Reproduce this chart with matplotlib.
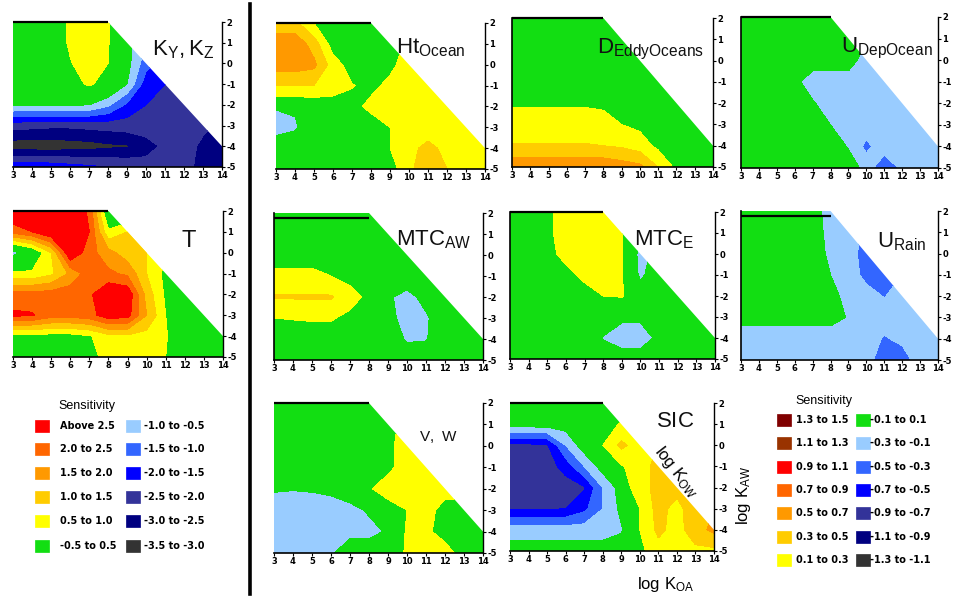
import numpy as np
import matplotlib
matplotlib.use("Agg")
import matplotlib.pyplot as plt
from matplotlib.patches import Polygon, Rectangle

W, H = 954, 598

# ---------------- data ----------------
log_koa = [3, 4, 5, 6, 7, 8, 9, 10, 11, 12, 13, 14]
log_kaw = [2, 1, 0, -1, -2, -3, -4, -5]
kow_limit = 10  # log Kow boundary: log Koa + log Kaw <= 10

# colours
c_green = '#12DE12'
c_yellow, c_gold, c_orange, c_dorange, c_red, c_brown, c_maroon = \
    '#FFFF00', '#FFCC00', '#FF9900', '#FF6600', '#FF0000', '#993300', '#800000'
c_lblue, c_mblue, c_blue, c_slate, c_navy, c_grey = \
    '#99CCFF', '#3366FF', '#0000FF', '#333399', '#000080', '#333333'

# left legend (K_Y,K_Z and T)
levels_left = [-3.5, -3.0, -2.5, -2.0, -1.5, -1.0, -0.5, 0.5, 1.0, 1.5, 2.0, 2.5, 99]
colors_left = [c_grey, c_navy, c_slate, c_blue, c_mblue, c_lblue, c_green,
               c_yellow, c_gold, c_orange, c_dorange, c_red]
legend_left_col1 = ['Above 2.5', '2.0 to 2.5', '1.5 to 2.0', '1.0 to 1.5', '0.5 to 1.0', '-0.5 to 0.5']
legend_left_col1_colors = [c_red, c_dorange, c_orange, c_gold, c_yellow, c_green]
legend_left_col2 = ['-1.0 to -0.5', '-1.5 to -1.0', '-2.0 to -1.5', '-2.5 to -2.0', '-3.0 to -2.5', '-3.5 to -3.0']
legend_left_col2_colors = [c_lblue, c_mblue, c_blue, c_slate, c_navy, c_grey]

# right legend (all other panels)
levels_right = [-1.3, -1.1, -0.9, -0.7, -0.5, -0.3, -0.1, 0.1, 0.3, 0.5, 0.7, 0.9, 1.1, 1.3, 1.5]
colors_right = [c_grey, c_navy, c_slate, c_blue, c_mblue, c_lblue, c_green,
                c_yellow, c_gold, c_orange, c_dorange, c_red, c_brown, c_maroon]
legend_right_col1 = ['1.3 to 1.5', '1.1 to 1.3', '0.9 to 1.1', '0.7 to 0.9', '0.5 to 0.7', '0.3 to 0.5', '0.1 to 0.3']
legend_right_col1_colors = [c_maroon, c_brown, c_red, c_dorange, c_orange, c_gold, c_yellow]
legend_right_col2 = ['-0.1 to 0.1', '-0.3 to -0.1', '-0.5 to -0.3', '-0.7 to -0.5', '-0.9 to -0.7', '-1.1 to -0.9', '-1.3 to -1.1']
legend_right_col2_colors = [c_green, c_lblue, c_mblue, c_blue, c_slate, c_navy, c_grey]

# sensitivity grids: rows = log_kaw (2 .. -5), columns = log_koa (3 .. 14)
sens_kykz = [
    [0, 0, 0, 0.6, 0.9, 0.55, -0.3, -0.75, -1.25, -1.75, -2.25, -2.25],
    [0, 0, 0, 0.6, 0.9, 0.55, -0.3, -1.0, -1.5, -2.0, -2.25, -2.25],
    [0, 0, 0, 0.45, 0.85, 0.5, -0.3, -1.3, -1.8, -2.25, -2.25, -2.25],
    [0, 0, 0, 0.2, 0.6, 0.2, -0.5, -1.8, -2.0, -2.3, -2.3, -2.3],
    [-0.45, -0.45, -0.45, -0.45, -0.5, -0.9, -1.6, -2.0, -2.25, -2.3, -2.3, -2.3],
    [-2.3, -2.35, -2.4, -2.4, -2.35, -2.3, -2.25, -2.25, -2.25, -2.25, -2.4, -2.6],
    [-3.3, -3.3, -3.3, -3.25, -3.2, -3.1, -3.05, -2.7, -2.4, -2.3, -2.6, -2.8],
    [-1.6, -1.6, -1.7, -1.8, -1.9, -2.0, -2.1, -2.3, -2.3, -2.3, -2.7, -2.8],
]
sens_t = [
    [3.0, 3.0, 3.0, 3.0, 2.4, -0.2, -0.2, -0.2, -0.2, -0.2, -0.2, -0.2],
    [2.2, 2.5, 3.0, 3.0, 2.5, 0.6, 1.0, 0.8, 0.5, 0.2, 0, 0],
    [-0.7, -0.1, 1.0, 3.0, 2.2, 1.7, 1.2, 1.0, 0.5, 0.5, 0.5, 0.5],
    [0.6, 0.6, 0.9, 1.6, 2.3, 2.1, 1.9, 1.0, 0.35, 0, 0, 0],
    [2.2, 2.2, 2.25, 2.3, 2.4, 3.0, 2.9, 1.3, 0.4, 0, 0, 0],
    [2.6, 2.55, 2.2, 2.2, 2.3, 2.8, 2.7, 1.5, 0.5, 0, 0, 0],
    [0.3, 0.3, 0.3, 0.3, 0.45, 0.85, 0.9, 0.8, 0.55, 0, 0, 0],
    [0, 0, 0, 0, 0.3, 0.7, 0.7, 0.7, 0.5, 0, 0, 0],
]
sens_ht_ocean = [
    [0.4, 0.35, 0.1, 0, 0, 0, 0, 0, 0, 0, 0, 0],
    [0.6, 0.65, 0.4, 0, 0, 0, 0, 0.15, 0.15, 0.15, 0.15, 0.15],
    [0.6, 0.6, 0.55, 0.2, 0, 0, 0.05, 0.2, 0.2, 0.2, 0.2, 0.2],
    [0.3, 0.3, 0.3, 0.2, 0.11, 0.05, 0.15, 0.2, 0.2, 0.2, 0.2, 0.2],
    [-0.08, -0.08, -0.05, 0, 0.04, 0.15, 0.2, 0.2, 0.2, 0.2, 0.2, 0.2],
    [-0.2, -0.12, 0, 0, 0, 0, 0.1, 0.2, 0.2, 0.2, 0.2, 0.2],
    [0.05, 0, 0, 0, 0, 0, 0.1, 0.25, 0.35, 0.25, 0.2, 0.2],
    [0, 0, 0, 0, 0, 0, 0, 0.25, 0.45, 0.3, 0.2, 0.2],
]
sens_d_eddy = [
    [0, 0, 0, 0, 0, 0, 0, 0, 0, 0, 0, 0],
    [0, 0, 0, 0, 0, 0, 0, 0, 0, 0, 0, 0],
    [0, 0, 0, 0, 0, 0, 0, 0, 0, 0, 0, 0],
    [0, 0, 0, 0, 0, 0, 0, 0, 0, 0, 0, 0],
    [0.07, 0.07, 0.07, 0.07, 0.07, 0.05, 0, 0, 0, 0, 0, 0],
    [0.22, 0.22, 0.22, 0.22, 0.22, 0.2, 0.1, 0.05, 0, 0, 0, 0],
    [0.31, 0.31, 0.31, 0.31, 0.31, 0.3, 0.27, 0.2, 0.05, 0, 0, 0],
    [0.65, 0.65, 0.65, 0.65, 0.65, 0.65, 0.6, 0.55, 0.3, 0.05, 0, 0],
]
sens_u_dep_ocean = [
    [0, 0, 0, 0, 0, 0, 0, 0, 0, 0, 0, 0],
    [0, 0, 0, 0, 0, 0, 0, -0.1, -0.2, -0.2, -0.2, -0.2],
    [0, 0, 0, 0.05, 0, 0, 0, -0.2, -0.2, -0.2, -0.2, -0.2],
    [0, 0, 0, -0.05, -0.2, -0.2, -0.2, -0.2, -0.2, -0.2, -0.2, -0.2],
    [0, 0, 0, 0.05, -0.08, -0.2, -0.2, -0.2, -0.2, -0.2, -0.2, -0.2],
    [0, 0, 0, 0, 0.05, -0.1, -0.2, -0.2, -0.2, -0.2, -0.2, -0.2],
    [0, 0, 0, 0, 0, 0.05, -0.12, -0.35, -0.18, -0.2, -0.2, -0.2],
    [0, 0, 0, 0, 0, 0, 0.03, -0.18, -0.48, -0.25, -0.2, -0.2],
]
sens_mtc_aw = [
    [0, 0, 0, 0, 0, 0, 0, 0, 0, 0, 0, 0],
    [0, 0, 0, 0, 0, 0, 0, 0, 0, 0, 0, 0],
    [0, 0, 0, 0, 0, 0, 0, 0, 0, 0, 0, 0],
    [0.16, 0.16, 0.16, 0.1, 0.03, 0, 0, 0, 0, 0, 0, 0],
    [0.32, 0.32, 0.32, 0.32, 0.18, 0.05, -0.08, -0.15, -0.05, 0, 0, 0],
    [0.1, 0.11, 0.12, 0.12, 0.05, 0, -0.02, -0.2, -0.12, 0, 0, 0],
    [0, 0, 0, 0, 0, 0, 0, -0.12, -0.11, 0, 0, 0],
    [0, 0, 0, 0, 0, 0, 0, 0, 0, 0, 0, 0],
]
sens_mtc_e = [
    [0, 0, 0.05, 0.2, 0.2, 0.2, 0.11, -0.1, -0.1, 0, 0, 0],
    [0, 0, 0.05, 0.2, 0.2, 0.2, 0.11, -0.1, -0.1, 0, 0, 0],
    [0, 0, 0.05, 0.15, 0.2, 0.2, 0.11, -0.15, -0.05, 0, 0, 0],
    [0, 0, 0, 0.05, 0.14, 0.18, 0.11, -0.13, 0, 0, 0, 0],
    [0, 0, 0, 0, 0.03, 0.1, 0.11, 0, 0, 0, 0, 0],
    [0, 0, 0, 0, 0, 0, -0.06, -0.06, 0, 0, 0, 0],
    [0, 0, 0, 0, 0, -0.11, -0.2, -0.2, -0.05, 0, 0, 0],
    [0, 0, 0, 0, 0, 0, 0, 0, 0, 0, 0, 0],
]
sens_u_rain = [
    [0, 0, 0, 0, 0, -0.2, -0.2, -0.35, -0.35, -0.3, -0.2, -0.2],
    [0, 0, 0, 0, 0, -0.17, -0.2, -0.35, -0.35, -0.3, -0.2, -0.2],
    [0, 0, 0, 0, 0.02, -0.15, -0.2, -0.4, -0.4, -0.3, -0.2, -0.2],
    [0, 0, 0, 0, 0.05, -0.1, -0.2, -0.36, -0.3, -0.3, -0.2, -0.2],
    [0, 0, 0, 0, 0.02, 0, -0.2, -0.22, -0.31, -0.2, -0.2, -0.2],
    [0, 0, 0, 0, 0, 0, -0.12, -0.2, -0.2, -0.2, -0.2, -0.2],
    [-0.25, -0.25, -0.25, -0.25, -0.25, -0.25, -0.2, -0.2, -0.32, -0.25, -0.2, -0.2],
    [-0.2, -0.2, -0.2, -0.2, -0.2, -0.2, -0.2, -0.2, -0.45, -0.4, -0.2, -0.2],
]
sens_v_w = [
    [0, 0, 0, 0, 0, 0, 0, 0.2, 0.2, 0.2, 0.2, 0.2],
    [0, 0, 0, 0, 0, 0, 0, 0.2, 0.2, 0.2, 0.2, 0.2],
    [0, 0, 0, 0, 0, 0, 0.05, 0.2, 0.2, 0.2, 0.2, 0.2],
    [0, 0, 0, 0, 0, 0, 0.05, 0.2, 0.2, 0.2, 0.2, 0.2],
    [-0.08, -0.09, -0.08, -0.05, 0, 0.08, 0.2, 0.2, 0.2, 0.2, 0.2, 0.2],
    [-0.2, -0.2, -0.2, -0.2, -0.15, -0.08, 0, 0.1, 0.2, 0, 0, 0],
    [-0.2, -0.2, -0.2, -0.18, -0.15, -0.15, -0.08, 0.12, 0.15, 0, 0, 0],
    [-0.2, -0.2, -0.2, -0.12, 0, 0, 0, 0.12, 0.2, 0.2, 0, 0],
]
sens_sic = [
    [0, 0, 0, 0, 0, 0, 0, 0.1, 0.2, 0.2, 0.2, 0.2],
    [0, 0, 0, 0, 0, 0, 0.12, 0.2, 0.2, 0.2, 0.2, 0.2],
    [-0.75, -0.75, -0.72, -0.3, 0.02, 0.1, 0.35, 0.2, 0.3, 0.35, 0.35, 0.35],
    [-0.8, -0.8, -0.8, -0.62, -0.3, 0.0, 0.08, 0.2, 0.38, 0.38, 0.38, 0.38],
    [-0.8, -0.8, -0.8, -0.8, -0.72, -0.3, 0.0, 0.2, 0.38, 0.38, 0.4, 0.4],
    [-0.72, -0.72, -0.72, -0.7, -0.55, -0.3, -0.05, 0.1, 0.38, 0.22, 0.45, 0.5],
    [-0.2, -0.2, -0.2, -0.2, -0.2, -0.2, -0.12, 0.1, 0.35, 0.22, 0.42, 0.55],
    [0, 0, 0, 0, 0, 0, 0, 0.05, 0.22, 0.2, 0.25, 0.25],
]

# ---------------- figure ----------------
plt.rcParams['font.family'] = ['Liberation Sans', 'DejaVu Sans']
fig = plt.figure(figsize=(W / 100, H / 100), dpi=100)


def box(x0, y0, x1, y1):
    return [x0 / W, 1 - y1 / H, (x1 - x0) / W, (y1 - y0) / H]


X, Y = np.meshgrid(log_koa, log_kaw[::-1])
xmin, xmax = min(log_koa), max(log_koa)
ymin, ymax = min(log_kaw), max(log_kaw)
domain = [(xmin, ymin), (xmin, ymax), (kow_limit - ymax, ymax),
          (xmax, kow_limit - xmax), (xmax, ymin)]

panels = [
    # grid, scale, pixel box, top-line y, left spine
    (sens_kykz, 'left', (13, 22, 222, 167), 2.0, False),
    (sens_t, 'left', (13, 211, 223, 357), 2.0, False),
    (sens_ht_ocean, 'right', (276, 23, 485, 169), 2.0, False),
    (sens_d_eddy, 'right', (512, 18, 713, 167), 2.0, True),
    (sens_u_dep_ocean, 'right', (741, 17, 938, 168), 2.0, True),
    (sens_mtc_aw, 'right', (274, 213, 483, 360), 1.76, True),
    (sens_mtc_e, 'right', (510, 212, 715, 359), 2.0, True),
    (sens_u_rain, 'right', (741, 211, 938, 360), 1.76, True),
    (sens_v_w, 'right', (274, 403, 483, 553), 2.0, False),
    (sens_sic, 'right', (510, 403, 714, 551), 2.0, False),
]

for grid, scale, pbox, topy, lspine in panels:
    ax = fig.add_axes(box(*pbox))
    Z = np.array(grid, dtype=float)[::-1]
    lev, cols = (levels_left, colors_left) if scale == 'left' else (levels_right, colors_right)
    cs = ax.contourf(X, Y, Z, levels=lev, colors=cols)
    clip = Polygon(domain, closed=True, transform=ax.transData,
                   facecolor='none', edgecolor='none')
    ax.add_patch(clip)
    cs.set_clip_path(clip)
    ax.set_xlim(xmin, xmax)
    ax.set_ylim(ymin, ymax)
    ax.set_xticks(log_koa)
    ax.set_xticklabels([str(v) for v in log_koa])
    ax.set_yticks(log_kaw)
    ax.set_yticklabels([str(v) for v in log_kaw])
    ax.yaxis.tick_right()
    ax.tick_params(axis='both', labelsize=6, length=2, width=0.8, pad=1.2,
                   labelfontfamily='DejaVu Sans')
    for lab in ax.get_xticklabels() + ax.get_yticklabels():
        lab.set_fontweight('bold')
    ax.spines['top'].set_visible(False)
    ax.spines['left'].set_visible(lspine)
    ax.spines['left'].set_linewidth(1.2)
    ax.spines['bottom'].set_linewidth(1.2)
    ax.spines['right'].set_linewidth(1.0)
    ax.plot([xmin, kow_limit - ymax], [topy, topy], color='black', lw=1.6,
            clip_on=False, solid_capstyle='butt')
    ax.set_facecolor('white')

# ---------------- overlay (titles, legends, labels) ----------------
ov = fig.add_axes([0, 0, 1, 1])
ov.set_xlim(0, W)
ov.set_ylim(H, 0)
ov.axis('off')
ov.patch.set_alpha(0)

ov.plot([250, 250], [4, 594], color='black', lw=2.6)

titles = [
    (r'$\mathregular{K_{Y}, K_{Z}}$', 152, 55, 16),
    (r'$\mathregular{T}$', 181, 247, 17),
    (r'$\mathregular{Ht_{Ocean}}$', 396, 53, 16),
    (r'$\mathregular{D_{EddyOceans}}$', 597, 53, 16),
    (r'$\mathregular{U_{DepOcean}}$', 841, 52, 16),
    (r'$\mathregular{MTC_{AW}}$', 396, 245, 16),
    (r'$\mathregular{MTC_{E}}$', 634, 245, 16),
    (r'$\mathregular{U_{Rain}}$', 877, 247, 16),
    (r'$\mathregular{V,\ W}$', 419, 441, 11),
    (r'$\mathregular{SIC}$', 656, 427, 16),
]
for txt, x, y, fs in titles:
    ov.text(x, y, txt, fontsize=fs, ha='left', va='baseline', color='#111111')

ov.text(666, 589, r'$\mathregular{log\ K_{OA}}$', fontsize=12, ha='center', va='baseline')
ov.text(744, 495, r'$\mathregular{log\ K_{AW}}$', fontsize=12, ha='center', va='center',
        rotation=90)
ov.text(676, 472, r'$\mathregular{log\ K_{OW}}$', fontsize=12, ha='center', va='center',
        rotation=-52)

# legends
def draw_legend(title_xy, col_specs, row_ys):
    ov.text(title_xy[0], title_xy[1], 'Sensitivity', fontsize=9, ha='left', va='center')
    for bx, lx, labels, colors in col_specs:
        for lab, col, yc in zip(labels, colors, row_ys):
            ov.add_patch(Rectangle((bx, yc - 6), 14, 12, facecolor=col,
                                   edgecolor=col, lw=0.5))
            ov.text(lx, yc, lab, fontsize=7, ha='left', va='center',
                    family='DejaVu Sans', fontweight='bold')

draw_legend((58, 406),
            [(35, 60, legend_left_col1, legend_left_col1_colors),
             (126, 144, legend_left_col2, legend_left_col2_colors)],
            [426, 449, 473, 497, 521, 546])
draw_legend((795, 401),
            [(777, 796, legend_right_col1, legend_right_col1_colors),
             (856, 870, legend_right_col2, legend_right_col2_colors)],
            [420, 443, 467, 490, 513, 537, 560])

fig.savefig('out.png', dpi=100)
